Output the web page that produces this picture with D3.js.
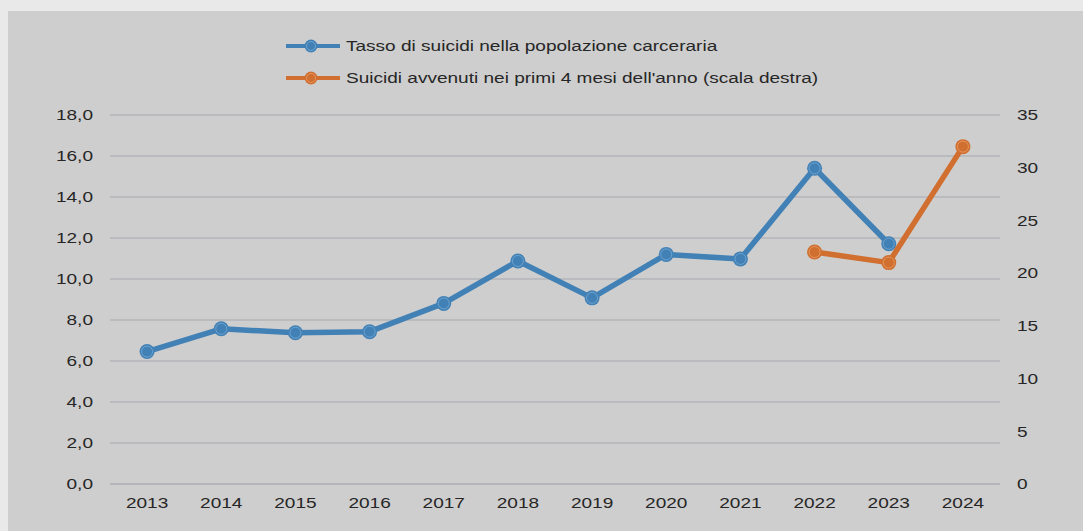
<!DOCTYPE html>
<html><head><meta charset="utf-8">
<script src="https://cdn.jsdelivr.net/npm/d3@7"></script>
<style>
html,body{margin:0;padding:0;background:#e9e9e9;}
svg{display:block;}
text{font-family:"Liberation Sans",Arial,sans-serif;fill:#262626;}
</style></head>
<body>
<svg id="c" width="1083" height="531"></svg>
<script>
const years = ["2013","2014","2015","2016","2017","2018","2019","2020","2021","2022","2023","2024"];
const tassoSuicidi = [6.46,7.57,7.38,7.43,8.81,10.88,9.08,11.2,10.98,15.4,11.72,null];
const suicidiPrimi4Mesi = [null,null,null,null,null,null,null,null,null,22,21,32];
const leftTicks = [0,2,4,6,8,10,12,14,16,18];
const rightTicks = [0,5,10,15,20,25,30,35];
const seriesNames = ["Tasso di suicidi nella popolazione carceraria","Suicidi avvenuti nei primi 4 mesi dell'anno (scala destra)"];
const colors = ["#4181b6","#d06f2f"];
const ringColors = ["#79a9d2","#e99d68"];

const SX = 1.27; // horizontal stretch of text in the reference

const svg = d3.select("#c");
svg.append("rect").attr("x",8).attr("y",11).attr("width",1083-8).attr("height",531-11).attr("fill","#cecece");

const pL=110, pR=1000, pT=115, pB=484;
const x = d3.scaleBand().domain(years).range([pL,pR]);
const yL = d3.scaleLinear().domain([0,18]).range([pB,pT]);
const yR = d3.scaleLinear().domain([0,35]).range([pB,pT]);

const fmt = d => d.toFixed(1).replace(".",",");

// gridlines
svg.append("g").selectAll("line").data(leftTicks).join("line")
  .attr("x1",pL).attr("x2",pR)
  .attr("y1",d=>yL(d)).attr("y2",d=>yL(d))
  .attr("stroke","#b3b5b9").attr("stroke-width",d=>d===0?2:1.5);

// left axis labels
svg.append("g").selectAll("text").data(leftTicks).join("text")
  .attr("transform",d=>`translate(93,${yL(d)}) scale(${SX},1)`).attr("dy","0.35em")
  .attr("text-anchor","end").attr("font-size",15).text(fmt);

// right axis labels
svg.append("g").selectAll("text").data(rightTicks).join("text")
  .attr("transform",d=>`translate(1017,${yR(d)}) scale(${SX},1)`).attr("dy","0.35em")
  .attr("text-anchor","start").attr("font-size",15).text(d=>d);

// x labels
svg.append("g").selectAll("text").data(years).join("text")
  .attr("transform",d=>`translate(${x(d)+x.bandwidth()/2},503) scale(${SX},1)`).attr("dy","0.35em")
  .attr("text-anchor","middle").attr("font-size",15).text(d=>d);

function drawSeries(vals, yScale, i){
  const pts = years.map((y,k)=>({y, v:vals[k]})).filter(p=>p.v!=null);
  const line = d3.line().x(p=>x(p.y)+x.bandwidth()/2).y(p=>yScale(p.v));
  svg.append("path").datum(pts).attr("d",line).attr("fill","none")
    .attr("stroke",colors[i]).attr("stroke-width",5.5).attr("stroke-linejoin","round");
  const g = svg.append("g");
  g.selectAll("circle.m").data(pts).join("circle").attr("class","m")
    .attr("cx",p=>x(p.y)+x.bandwidth()/2).attr("cy",p=>yScale(p.v)).attr("r",7.5)
    .attr("fill",colors[i]);
  g.selectAll("circle.r").data(pts).join("circle").attr("class","r")
    .attr("cx",p=>x(p.y)+x.bandwidth()/2).attr("cy",p=>yScale(p.v)).attr("r",5.5)
    .attr("fill","none").attr("stroke",ringColors[i]).attr("stroke-width",0.8);
}
drawSeries(tassoSuicidi,yL,0);
drawSeries(suicidiPrimi4Mesi,yR,1);

// legend
const lg = svg.append("g").selectAll("g").data(seriesNames).join("g")
  .attr("transform",(d,i)=>`translate(0,${46+i*32})`);
lg.append("line").attr("x1",286).attr("x2",340).attr("y1",0).attr("y2",0)
  .attr("stroke",(d,i)=>colors[i]).attr("stroke-width",4);
lg.append("circle").attr("cx",311).attr("cy",0).attr("r",6.5).attr("fill",(d,i)=>colors[i]);
lg.append("circle").attr("cx",311).attr("cy",0).attr("r",4.5).attr("fill","none")
  .attr("stroke",(d,i)=>ringColors[i]).attr("stroke-width",0.8);
lg.append("text").attr("transform",`translate(346,0) scale(${SX},1)`).attr("dy","0.35em").attr("font-size",15).text(d=>d);
</script>
</body></html>
